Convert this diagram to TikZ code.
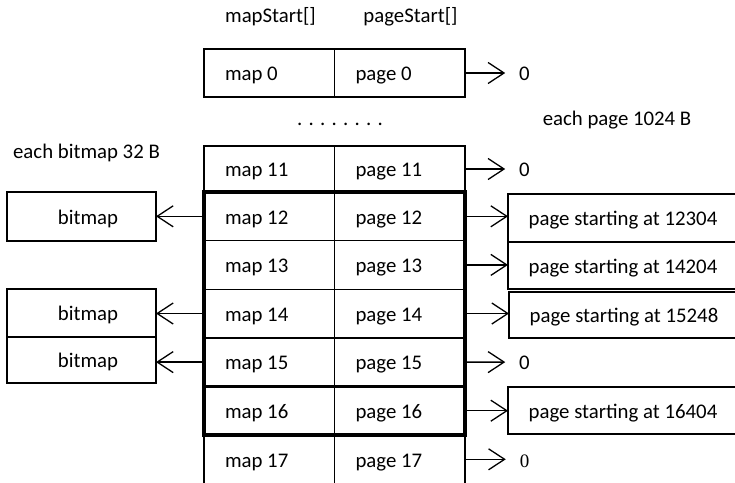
\documentclass[tikz,border=0pt]{standalone}
\usepackage{fontspec}
\setmainfont{Carlito}
\newfontfamily\serifdigits{Liberation Serif}
\usetikzlibrary{arrows.meta}

\begin{document}
\begin{tikzpicture}[x=1pt, y=-1pt,
  txt/.style={font=\fontsize{20.8}{24}\selectfont, text height=15.6pt, text depth=0pt, inner ysep=0pt},
  lbl/.style={font=\fontsize{20.8}{24}\selectfont, inner sep=0pt, anchor=base},
  cell/.style={txt, draw, line width=1.4pt, outer sep=0pt, anchor=north west,
    align=flush left, inner xsep=21pt, text width=88.5pt, minimum height=#1},
  opencell/.style={txt, outer sep=0pt, anchor=north west,
    align=flush left, inner xsep=21pt, text width=88.5pt, minimum height=#1},
  bitbox/.style={txt, draw, line width=1.4pt, outer sep=0pt, anchor=north west,
    minimum width=149pt, minimum height=#1},
  pagebox/.style={txt, draw, line width=1.4pt, outer sep=0pt, anchor=north west,
    minimum width=230pt, minimum height=#1},
  zero/.style={txt, inner xsep=14pt, outer sep=0pt},
  ptr/.style={line width=1.3pt, -{Straight Barb[length=16pt,width=21pt]}}
]
\useasboundingbox (0,0) rectangle (735,482);

% column headings and notes
\node[lbl] (hmap) at (270.5,22.5) {mapStart[]};
\node[lbl] (hpage) at (410.5,22.5) {pageStart[]};
\node[lbl] (dots) at (340,125.5) {. . . . . . . .};
\node[lbl] (notepage) at (617,125) {each page 1024 B};
\node[lbl] (notebit) at (86.5,158.3) {each bitmap 32 B};

% entry 0
\node[cell=48pt] (m0) at (204,49) {map 0};
\node[cell=48pt] (p0) at (334.5,49) {page 0};

% entry 11
\node[cell=46pt] (m11) at (204,146) {map 11};
\node[cell=46pt] (p11) at (334.5,146) {page 11};

% entries 12 to 16
\foreach \n [count=\i from 0] in {12,13,14,15,16} {
  \node[cell=48.6pt] (m\n) at (204,{192+48.6*\i}) {map \n};
  \node[cell=48.6pt] (p\n) at (334.5,{192+48.6*\i}) {page \n};
}

% entry 17, open at the bottom
\node[opencell=48.6pt] (m17) at (204,435) {map 17};
\node[opencell=48.6pt] (p17) at (334.5,435) {page 17};
\draw[line width=1.4pt] (m17.north west) -- (m17.south west)
  (m17.north east) -- (m17.south east)
  (p17.north east) -- (p17.south east);

% heavy frame round entries 12 to 16
\draw[line width=2.6pt] (m16.north west) -- (p16.north east);
\draw[line width=4pt] (m12.north west) rectangle (p16.south east);

% bitmaps
\node[bitbox=49pt] (bm1) at (7,192) {\hspace*{13pt}bitmap};
\node[bitbox=48pt] (bm2) at (7,289) {\hspace*{13pt}bitmap};
\node[bitbox=46pt] (bm3) at (7,337) {\hspace*{13pt}bitmap};

% pages
\node[pagebox=48pt] (r1) at (508,194) {page starting at 12304};
\node[pagebox=47pt] (r2) at (508,242) {page starting at 14204};
\node[pagebox=46pt] (r3) at (509,292) {page starting at 15248};
\node[pagebox=47pt] (r4) at (508,387) {page starting at 16404};

% null pointers
\node[zero] (z0) at (524.5,73) {0};
\node[zero] (z11) at (524.5,169) {0};
\node[zero] (z15) at (524.5,362.1) {0};
\node[zero, font=\serifdigits\fontsize{19}{22}\selectfont] (z17) at (524.5,459.3) {0};

% pointers to the right
\draw[ptr] (p0.east) -- (z0.west);
\draw[ptr] (p11.east) -- (z11.west);
\draw[ptr] (p12.east) -- (p12.east -| r1.west);
\draw[ptr] (p13.east) -- (p13.east -| r2.west);
\draw[ptr] (p14.east) -- (p14.east -| r3.west);
\draw[ptr] (p15.east) -- (z15.west);
\draw[ptr] (p16.east) -- (p16.east -| r4.west);
\draw[ptr] (p17.east) -- (z17.west);

% pointers to the left
\draw[ptr] (m12.west) -- (m12.west -| bm1.east);
\draw[ptr] (m14.west) -- (m14.west -| bm2.east);
\draw[ptr] (m15.west) -- (m15.west -| bm3.east);
\end{tikzpicture}
\end{document}
